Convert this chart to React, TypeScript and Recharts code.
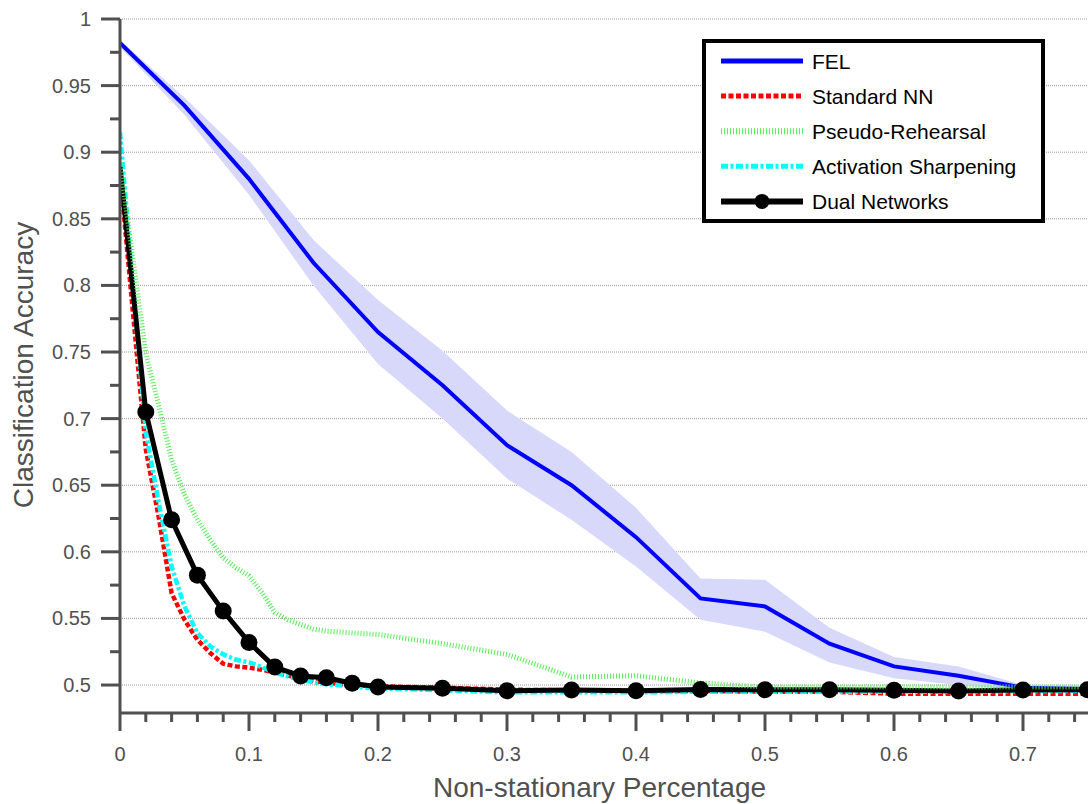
import React from "react";
import {
  ComposedChart,
  Area,
  Line,
  XAxis,
  YAxis,
  CartesianGrid,
} from "recharts";

// FEL: mean accuracy with a shaded spread, sampled every 0.05
const xFel = [0, 0.05, 0.1, 0.15, 0.2, 0.25, 0.3, 0.35, 0.4, 0.45, 0.5, 0.55, 0.6, 0.65, 0.7, 0.75];
const felMean = [0.982, 0.935, 0.88, 0.817, 0.765, 0.725, 0.68, 0.65, 0.611, 0.565, 0.559, 0.531, 0.514, 0.507, 0.498, 0.497];
const felUpper = [0.984, 0.941, 0.894, 0.834, 0.789, 0.751, 0.706, 0.675, 0.633, 0.58, 0.579, 0.543, 0.521, 0.514, 0.5, 0.499];
const felLower = [0.979, 0.928, 0.868, 0.8, 0.741, 0.7, 0.655, 0.624, 0.589, 0.549, 0.54, 0.517, 0.505, 0.5, 0.496, 0.495];

// baselines, sampled every 0.01 up to 0.2 then every 0.05
const xFine = [
  0, 0.01, 0.02, 0.03, 0.04, 0.05, 0.06, 0.07, 0.08, 0.09, 0.1, 0.11, 0.12, 0.13, 0.14, 0.15, 0.16, 0.17, 0.18, 0.19, 0.2,
  0.25, 0.3, 0.35, 0.4, 0.45, 0.5, 0.55, 0.6, 0.65, 0.7, 0.75,
];
const standardNN = [
  0.885, 0.78, 0.677, 0.626, 0.569, 0.549, 0.534, 0.524, 0.516, 0.514, 0.513, 0.5115, 0.5093, 0.5073, 0.5048, 0.503, 0.5018,
  0.5008, 0.5, 0.4995, 0.499, 0.498, 0.4965, 0.496, 0.4955, 0.4955, 0.495, 0.495, 0.4935, 0.4935, 0.4935, 0.4935,
];
const pseudoRehearsal = [
  0.892, 0.82, 0.749, 0.71, 0.669, 0.643, 0.624, 0.609, 0.5955, 0.588, 0.582, 0.5695, 0.5545, 0.549, 0.5455, 0.542, 0.5405,
  0.5398, 0.539, 0.5385, 0.538, 0.531, 0.523, 0.506, 0.507, 0.5015, 0.4985, 0.4985, 0.4985, 0.4985, 0.4985, 0.4985,
];
const activationSharpening = [
  0.915, 0.8, 0.69, 0.637, 0.589, 0.559, 0.539, 0.529, 0.523, 0.519, 0.517, 0.5135, 0.5093, 0.5065, 0.504, 0.502, 0.5005,
  0.4998, 0.499, 0.498, 0.4975, 0.496, 0.4945, 0.4945, 0.4945, 0.495, 0.495, 0.495, 0.495, 0.495, 0.4955, 0.4955,
];

// dual networks, marked every 0.02 up to 0.2 then every 0.05
const xDual = [0, 0.02, 0.04, 0.06, 0.08, 0.1, 0.12, 0.14, 0.16, 0.18, 0.2, 0.25, 0.3, 0.35, 0.4, 0.45, 0.5, 0.55, 0.6, 0.65, 0.7, 0.75];
const dualNetworks = [
  0.889, 0.705, 0.624, 0.5825, 0.5555, 0.532, 0.5135, 0.5068, 0.5055, 0.5013, 0.4985, 0.4975, 0.4957, 0.4962, 0.4957, 0.4967,
  0.4965, 0.4965, 0.496, 0.4955, 0.4963, 0.4965,
];

const yMajorTicks = [0.5, 0.55, 0.6, 0.65, 0.7, 0.75, 0.8, 0.85, 0.9, 0.95, 1];
const yMinorTicks = [0.525, 0.575, 0.625, 0.675, 0.725, 0.775, 0.825, 0.875, 0.925, 0.975];
const xMajorTicks = [0, 0.1, 0.2, 0.3, 0.4, 0.5, 0.6, 0.7];
const xMinorTicks = [
  0.02, 0.04, 0.06, 0.08, 0.12, 0.14, 0.16, 0.18, 0.22, 0.24, 0.26, 0.28, 0.32, 0.34, 0.36, 0.38, 0.42, 0.44, 0.46, 0.48,
  0.52, 0.54, 0.56, 0.58, 0.62, 0.64, 0.66, 0.68, 0.72, 0.74,
];

const AXIS = "#505050";
const FONT = '"Liberation Sans", Arial, Helvetica, sans-serif';

const felData = xFel.map((x, i) => ({ x, y: felMean[i], band: [felLower[i], felUpper[i]] }));
const toRows = (xs: number[], ys: number[]) => xs.map((x, i) => ({ x, y: ys[i] }));
const nnData = toRows(xFine, standardNN);
const prData = toRows(xFine, pseudoRehearsal);
const asData = toRows(xFine, activationSharpening);
const dualData = toRows(xDual, dualNetworks);

const yTicks = [...yMajorTicks, ...yMinorTicks].sort((a, b) => a - b);
const xTicks = [...xMajorTicks, ...xMinorTicks].sort((a, b) => a - b);

// eslint-disable-next-line @typescript-eslint/no-explicit-any
const YTick = ({ x, y, payload }: any) => {
  const major = yMajorTicks.includes(payload.value);
  return (
    <g>
      <line x1={x - (major ? 19 : 10)} x2={x} y1={y} y2={y} stroke={AXIS} strokeWidth={3} />
      {major && (
        <text x={x - 29} y={y + 7} textAnchor="end" fontSize={20} fill={AXIS} fontFamily={FONT}>
          {String(payload.value)}
        </text>
      )}
    </g>
  );
};

// eslint-disable-next-line @typescript-eslint/no-explicit-any
const XTick = ({ x, y, payload }: any) => {
  const major = xMajorTicks.includes(payload.value);
  return (
    <g>
      <line x1={x} x2={x} y1={y} y2={y + (major ? 18 : 9)} stroke={AXIS} strokeWidth={3} />
      {major && (
        <text x={x} y={y + 48} textAnchor="middle" fontSize={20} fill={AXIS} fontFamily={FONT}>
          {String(payload.value)}
        </text>
      )}
    </g>
  );
};

// no marker on the first point
// eslint-disable-next-line @typescript-eslint/no-explicit-any
const DualDot = (props: any) => {
  const { cx, cy, payload, index } = props;
  if (payload.x === 0) return <g key={`d-${index}`} />;
  return <circle key={`d-${index}`} cx={cx} cy={cy} r={8.5} fill="#000" />;
};

const legendItems = [
  { label: "FEL", stroke: "#0000ff", dash: undefined, width: 5, marker: false },
  { label: "Standard NN", stroke: "#ff0000", dash: "5 2.5", width: 5, marker: false },
  { label: "Pseudo-Rehearsal", stroke: "#55ee55", dash: "1 2", width: 6, marker: false },
  { label: "Activation Sharpening", stroke: "#00ffff", dash: "7 2.5 3 2.5", width: 5, marker: false },
  { label: "Dual Networks", stroke: "#000000", dash: undefined, width: 6, marker: true },
];

export default function App() {
  return (
    <div
      style={{
        position: "absolute",
        left: 0,
        top: 0,
        width: 1088,
        height: 804,
        overflow: "hidden",
        background: "#fff",
        fontFamily: FONT,
      }}
    >
      <ComposedChart width={1200} height={804} margin={{ top: 19, right: 48, bottom: 0, left: 0 }}>
        <CartesianGrid
          vertical={false}
          horizontalValues={yMajorTicks}
          stroke="#9a9a9a"
          strokeDasharray="1 1"
        />
        <XAxis
          dataKey="x"
          type="number"
          domain={[0, 0.8]}
          ticks={xTicks}
          interval={0}
          height={91}
          tickSize={0}
          tickMargin={0}
          tickLine={false}
          tick={<XTick />}
          axisLine={{ stroke: AXIS, strokeWidth: 3 }}
          allowDataOverflow
        />
        <YAxis
          type="number"
          domain={[0.479, 1]}
          ticks={yTicks}
          interval={0}
          width={120}
          tickSize={0}
          tickMargin={0}
          tickLine={false}
          tick={<YTick />}
          axisLine={{ stroke: AXIS, strokeWidth: 3 }}
          allowDataOverflow
        />
        <Area
          data={felData}
          dataKey="band"
          type="linear"
          stroke="none"
          fill="#d8d8fb"
          fillOpacity={1}
          isAnimationActive={false}
        />
        <Line data={felData} dataKey="y" type="linear" stroke="#0000ff" strokeWidth={4} dot={false} isAnimationActive={false} />
        <Line
          data={nnData}
          dataKey="y"
          type="linear"
          stroke="#ff0000"
          strokeWidth={4.5}
          strokeDasharray="5 2.5"
          dot={false}
          isAnimationActive={false}
        />
        <Line
          data={asData}
          dataKey="y"
          type="linear"
          stroke="#00ffff"
          strokeWidth={4.5}
          strokeDasharray="7 2.5 3 2.5"
          dot={false}
          isAnimationActive={false}
        />
        <Line
          data={dualData}
          dataKey="y"
          type="linear"
          stroke="#000000"
          strokeWidth={5}
          dot={DualDot}
          isAnimationActive={false}
        />
        <Line
          data={prData}
          dataKey="y"
          type="linear"
          stroke="#55ee55"
          strokeWidth={5}
          strokeDasharray="1 2"
          dot={false}
          isAnimationActive={false}
        />
      </ComposedChart>

      <svg width={1088} height={804} style={{ position: "absolute", left: 0, top: 0, pointerEvents: "none" }}>
        <text x={599.5} y={797} textAnchor="middle" fontSize={28} fill={AXIS} fontFamily={FONT}>
          Non-stationary Percentage
        </text>
        <text
          x={0}
          y={0}
          transform="translate(33 365) rotate(-90)"
          textAnchor="middle"
          fontSize={28}
          fill={AXIS}
          fontFamily={FONT}
        >
          Classification Accuracy
        </text>

        <g transform="translate(702 39)">
          <rect x={2} y={2} width={339} height={180} fill="#fff" stroke="#000" strokeWidth={4} />
          {legendItems.map((item, i) => {
            const cy = 22 + i * 35.1;
            return (
              <g key={item.label}>
                <line
                  x1={19}
                  x2={101}
                  y1={cy}
                  y2={cy}
                  stroke={item.stroke}
                  strokeWidth={item.width}
                  strokeDasharray={item.dash}
                />
                {item.marker && <circle cx={60} cy={cy} r={7.5} fill="#000" />}
                <text x={110} y={cy + 8} fontSize={21} fill="#000" fontFamily={FONT}>
                  {item.label}
                </text>
              </g>
            );
          })}
        </g>
      </svg>
    </div>
  );
}
